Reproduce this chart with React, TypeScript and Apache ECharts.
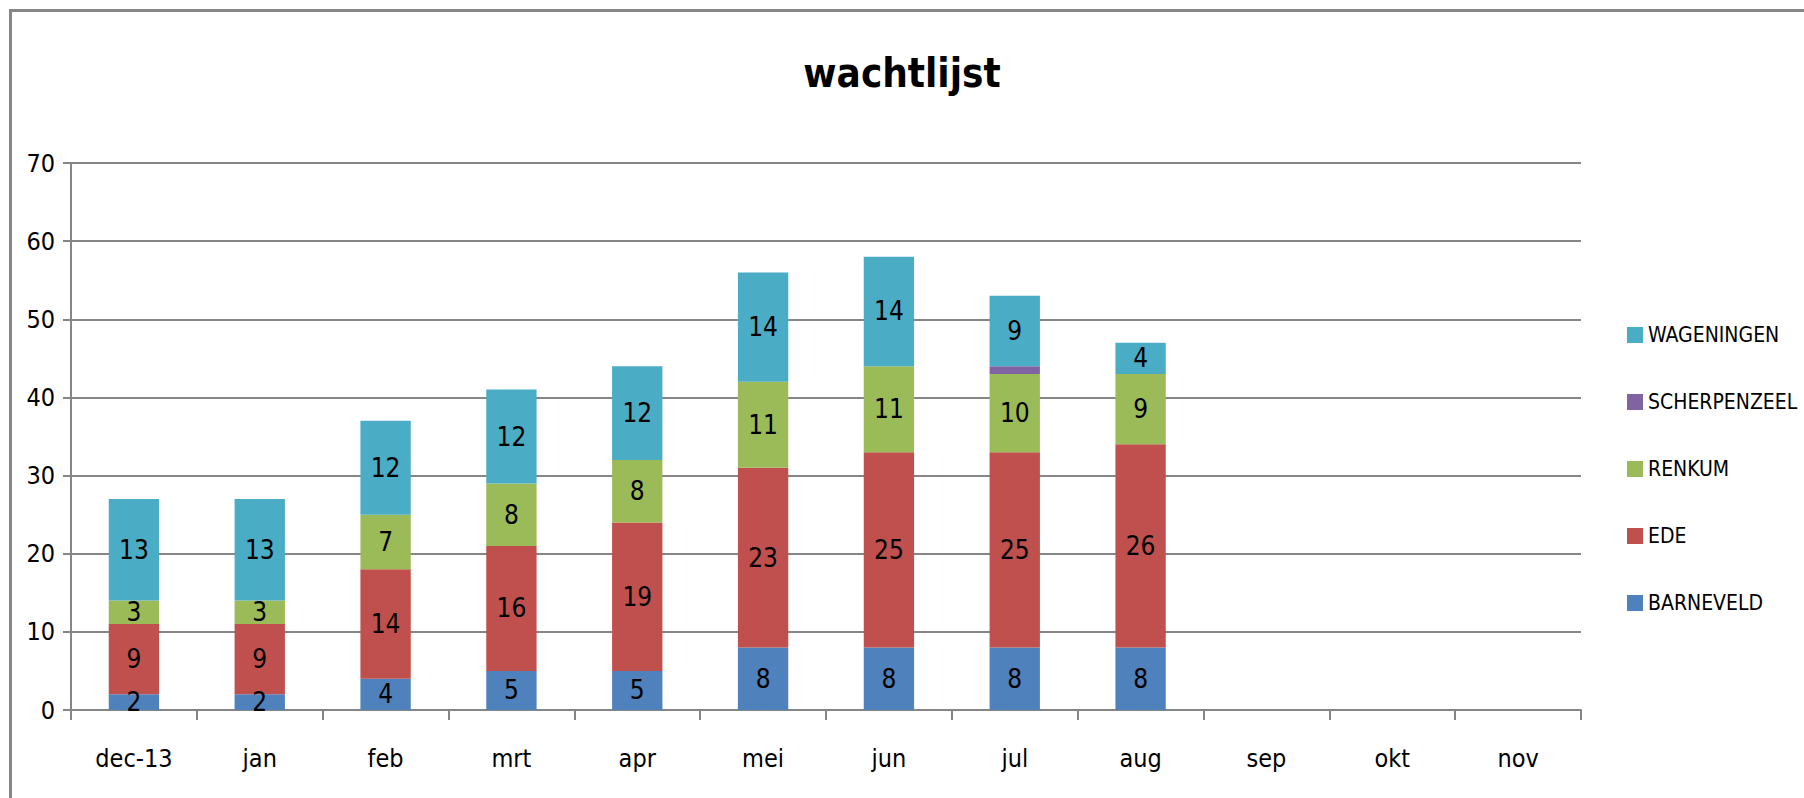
import React, { useEffect, useRef } from "react";
import * as echarts from "echarts";

const categories = ["dec-13", "jan", "feb", "mrt", "apr", "mei", "jun", "jul", "aug", "sep", "okt", "nov"];
const barneveld = [2, 2, 4, 5, 5, 8, 8, 8, 8, null, null, null];
const ede = [9, 9, 14, 16, 19, 23, 25, 25, 26, null, null, null];
const renkum = [3, 3, 7, 8, 8, 11, 11, 10, 9, null, null, null];
const scherpenzeel = [null, null, null, null, null, null, null, 1, null, null, null, null];
const wageningen = [13, 13, 12, 12, 12, 14, 14, 9, 4, null, null, null];
const yTicks = [0, 10, 20, 30, 40, 50, 60, 70];

const FONT = '"DejaVu Sans Condensed", "Liberation Sans Narrow", "Roboto Condensed", "Open Sans", sans-serif';

export default function App() {
  const ref = useRef<HTMLDivElement>(null);
  useEffect(() => {
    if (!ref.current) return;
    const chart = echarts.init(ref.current, undefined, { renderer: "svg" });
    const label = {
      show: true,
      position: "inside",
      color: "#000",
      fontSize: 26,
      fontFamily: FONT,
    };
    const mk = (name: string, data: (number | null)[], color: string, showLabel = true) => ({
      name,
      type: "bar",
      stack: "total",
      data,
      barCategoryGap: "60%",
      itemStyle: { color },
      label: { ...label, show: showLabel },
    });
    chart.setOption({
      animation: false,
      backgroundColor: "#fff",
      textStyle: { fontFamily: FONT },
      title: {
        text: "wachtlijst",
        left: "center",
        top: 53,
        padding: 0,
        textStyle: { fontSize: 40, fontWeight: "bold", color: "#000", fontFamily: FONT },
      },
      legend: {
        orient: "vertical",
        left: 1622,
        top: 319,
        itemWidth: 16,
        itemHeight: 16,
        itemGap: 45,
        icon: "rect",
        data: ["WAGENINGEN", "SCHERPENZEEL", "RENKUM", "EDE", "BARNEVELD"],
        textStyle: { fontSize: 21, color: "#000", fontFamily: FONT, lineHeight: 22 },
      },
      grid: { left: 71, right: 223, top: 163, bottom: 88, containLabel: false },
      xAxis: {
        type: "category",
        data: categories,
        axisLine: { lineStyle: { color: "#868686", width: 2 } },
        axisTick: { show: true, length: 10, lineStyle: { color: "#868686", width: 2 } },
        axisLabel: { fontSize: 25, color: "#000", margin: 36, fontFamily: FONT },
      },
      yAxis: {
        type: "value",
        min: yTicks[0],
        max: yTicks[yTicks.length - 1],
        interval: 10,
        axisLine: { show: true, lineStyle: { color: "#868686", width: 2 } },
        axisTick: { show: true, length: 8, lineStyle: { color: "#868686", width: 2 } },
        axisLabel: { fontSize: 25, color: "#000", margin: 16, fontFamily: FONT },
        splitLine: { lineStyle: { color: "#868686", width: 2 } },
      },
      graphic: [
        {
          type: "rect",
          left: 8,
          top: 8,
          shape: { x: 0, y: 0, width: 1900, height: 900 },
          style: { fill: "none", stroke: "#868686", lineWidth: 3 },
          silent: true,
        },
      ],
      series: [
        mk("BARNEVELD", barneveld, "#4F81BD"),
        mk("EDE", ede, "#C0504D"),
        mk("RENKUM", renkum, "#9BBB59"),
        mk("SCHERPENZEEL", scherpenzeel, "#8064A2", false),
        mk("WAGENINGEN", wageningen, "#4BACC6"),
      ],
    });
    return () => chart.dispose();
  }, []);
  return <div ref={ref} style={{ position: "fixed", left: 0, top: 0, width: 1804, height: 798 }} />;
}
